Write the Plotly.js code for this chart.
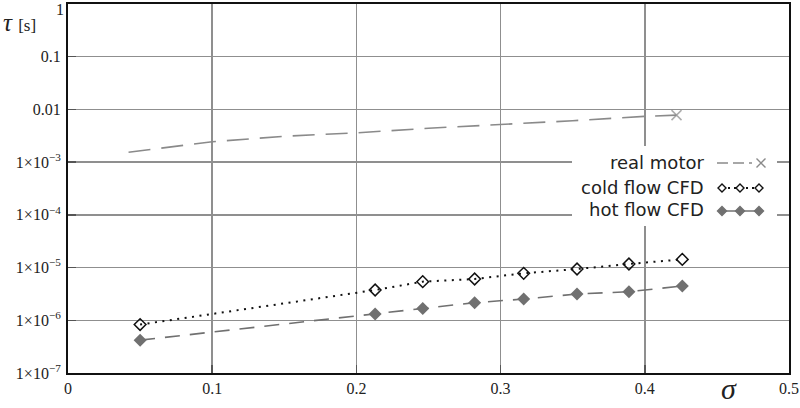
<!DOCTYPE html>
<html>
<head>
<meta charset="utf-8">
<script src="https://cdn.plot.ly/plotly-3.0.1.min.js"></script>
<style>html,body{margin:0;padding:0;background:#fff;}#chart{width:800px;height:408px;}</style>
</head>
<body>
<div id="chart"></div>
<script>
// ---- data ----
const realX = [0.042, 0.1, 0.15, 0.2, 0.25, 0.3, 0.35, 0.4, 0.422];
const realY = [1.54e-3, 2.44e-3, 3.1e-3, 3.6e-3, 4.4e-3, 5.1e-3, 6.1e-3, 7.4e-3, 7.8e-3];
const cfdX  = [0.050, 0.213, 0.246, 0.282, 0.316, 0.353, 0.389, 0.426];
const coldY = [8.3e-7, 3.75e-6, 5.4e-6, 6.07e-6, 7.78e-6, 9.4e-6, 1.17e-5, 1.43e-5];
const hotY  = [4.2e-7, 1.31e-6, 1.68e-6, 2.16e-6, 2.53e-6, 3.15e-6, 3.48e-6, 4.47e-6];
const seriesNames = ["real motor", "cold flow CFD", "hot flow CFD"];
const xTickVals = [0, 0.1, 0.2, 0.3, 0.4, 0.5];
const xTickText = ["0", "0.1", "0.2", "0.3", "0.4", "0.5"];
const yTickVals = [1e-7, 1e-6, 1e-5, 1e-4, 1e-3, 0.01, 0.1];
const yTickText = ["1×10<sup>−7</sup>", "1×10<sup>−6</sup>", "1×10<sup>−5</sup>", "1×10<sup>−4</sup>",
                   "1×10<sup>−3</sup>", "0.01", "0.1"];
const yTopLabel = "1";

// ---- layout geometry ----
const W = 800, H = 408;
const M = {l: 68, r: 11, t: 4, b: 35};
const PW = W - M.l - M.r, PH = H - M.t - M.b;
const px = x => (x - M.l) / PW;
const py = y => (H - M.b - y) / PH;

const realColor = "#8a8a8a", hotColor = "#707070", coldColor = "#111";

const traces = [
  {
    x: realX, y: realY, type: "scatter", mode: "lines+markers", name: seriesNames[0],
    line: {color: realColor, width: 1.6, dash: "22px,11px"},
    marker: {symbol: "x-thin", size: realX.map((v, i) => i === realX.length - 1 ? 10 : 0),
             line: {color: realColor, width: 1.5}, color: realColor},
    showlegend: false
  },
  {
    x: cfdX, y: coldY, type: "scatter", mode: "lines+markers", name: seriesNames[1],
    line: {color: coldColor, width: 2, dash: "2px,5.5px"},
    marker: {symbol: "diamond-open", size: 9, color: coldColor, line: {color: coldColor, width: 1.5}},
    showlegend: false
  },
  {
    x: cfdX, y: hotY, type: "scatter", mode: "lines+markers", name: seriesNames[2],
    line: {color: hotColor, width: 1.6, dash: "15px,10px"},
    marker: {symbol: "diamond", size: 10, color: hotColor},
    showlegend: false
  }
];

const shapes = [
  // legend background
  {type: "rect", xref: "paper", yref: "paper", x0: px(572), x1: px(777), y0: py(226), y1: py(146),
   fillcolor: "#fff", line: {width: 0}, layer: "above"},
  // legend line samples
  {type: "line", xref: "paper", yref: "paper", x0: px(717), x1: px(752), y0: py(163), y1: py(163),
   line: {color: realColor, width: 1.6, dash: "11px,5px"}, layer: "above"},
  {type: "line", xref: "paper", yref: "paper", x0: px(722), x1: px(759), y0: py(188), y1: py(188),
   line: {color: coldColor, width: 2, dash: "2px,4px"}, layer: "above"},
  {type: "line", xref: "paper", yref: "paper", x0: px(722), x1: px(759), y0: py(211), y1: py(211),
   line: {color: hotColor, width: 1.6}, layer: "above"}
];
// legend marker symbols as pixel-sized shapes
const symShape = (x, y, path, fill, lc) => ({type: "path", xref: "paper", yref: "paper",
  xsizemode: "pixel", ysizemode: "pixel", xanchor: px(x), yanchor: py(y), path: path,
  fillcolor: fill, line: {color: lc, width: 1.4}, layer: "above"});
const diamondPath = "M -4 0 L 0 4 L 4 0 L 0 -4 Z";
const diamondPathBig = "M -4.5 0 L 0 4.5 L 4.5 0 L 0 -4.5 Z";
const xPath = "M -4.5 -4.5 L 4.5 4.5 M -4.5 4.5 L 4.5 -4.5";
shapes.push(symShape(761, 163, xPath, "rgba(0,0,0,0)", realColor));
[722, 740, 759].forEach(x => shapes.push(symShape(x, 188, diamondPath, "#fff", coldColor)));
[722, 740, 759].forEach(x => shapes.push(symShape(x, 211, diamondPathBig, hotColor, hotColor)));

const lf = {family: "DejaVu Sans, Verdana, sans-serif", size: 18, color: "#222"};
const tickFont = {family: "Liberation Serif, Times New Roman, serif", size: 16, color: "#222"};
const annotations = [
  {text: seriesNames[0], x: px(706), y: py(162), xref: "paper", yref: "paper", xanchor: "right", yanchor: "middle", showarrow: false, font: lf},
  {text: seriesNames[1], x: px(706), y: py(187), xref: "paper", yref: "paper", xanchor: "right", yanchor: "middle", showarrow: false, font: lf},
  {text: seriesNames[2], x: px(706), y: py(210), xref: "paper", yref: "paper", xanchor: "right", yanchor: "middle", showarrow: false, font: lf},
  // top y tick label (kept inside the page)
  {text: yTopLabel, x: px(65), y: py(0), xref: "paper", yref: "paper", xanchor: "right", yanchor: "top",
   showarrow: false, borderpad: 0, font: tickFont},
  // axis titles
  {text: "<i>τ</i> <span style='font-size:17px'>[s]</span>", x: px(1), y: py(22), xref: "paper", yref: "paper",
   xanchor: "left", yanchor: "middle", showarrow: false,
   font: {family: "Liberation Serif, Times New Roman, serif", size: 25, color: "#222"}},
  {text: "<i>σ</i>", x: px(729), y: py(407), xref: "paper", yref: "paper",
   xanchor: "center", yanchor: "bottom", showarrow: false,
   font: {family: "Liberation Serif, Times New Roman, serif", size: 30, color: "#222"}}
];

const layout = {
  width: W, height: H, margin: M,
  paper_bgcolor: "#fff", plot_bgcolor: "#fff", showlegend: false,
  xaxis: {
    range: [0, 0.5], tickvals: xTickVals, ticktext: xTickText, tickfont: tickFont,
    showgrid: true, gridcolor: "#8f8f8f", gridwidth: 1.5, zeroline: false,
    showline: true, linecolor: "#111", linewidth: 2, mirror: true,
    ticks: "inside", ticklen: 8, tickcolor: "#555", tickwidth: 1.5, ticklabeloverflow: "allow"
  },
  yaxis: {
    type: "log", range: [-7, 0], tickvals: yTickVals, ticktext: yTickText, tickfont: tickFont,
    showgrid: true, gridcolor: "#8f8f8f", gridwidth: 1.5, zeroline: false,
    showline: true, linecolor: "#111", linewidth: 2, mirror: true,
    ticks: "inside", ticklen: 8, tickcolor: "#555", tickwidth: 1.5, ticklabelstandoff: 2,
    ticklabeloverflow: "allow"
  },
  shapes: shapes, annotations: annotations
};

Plotly.newPlot("chart", traces, layout, {staticPlot: true, displayModeBar: false});
</script>
</body>
</html>
